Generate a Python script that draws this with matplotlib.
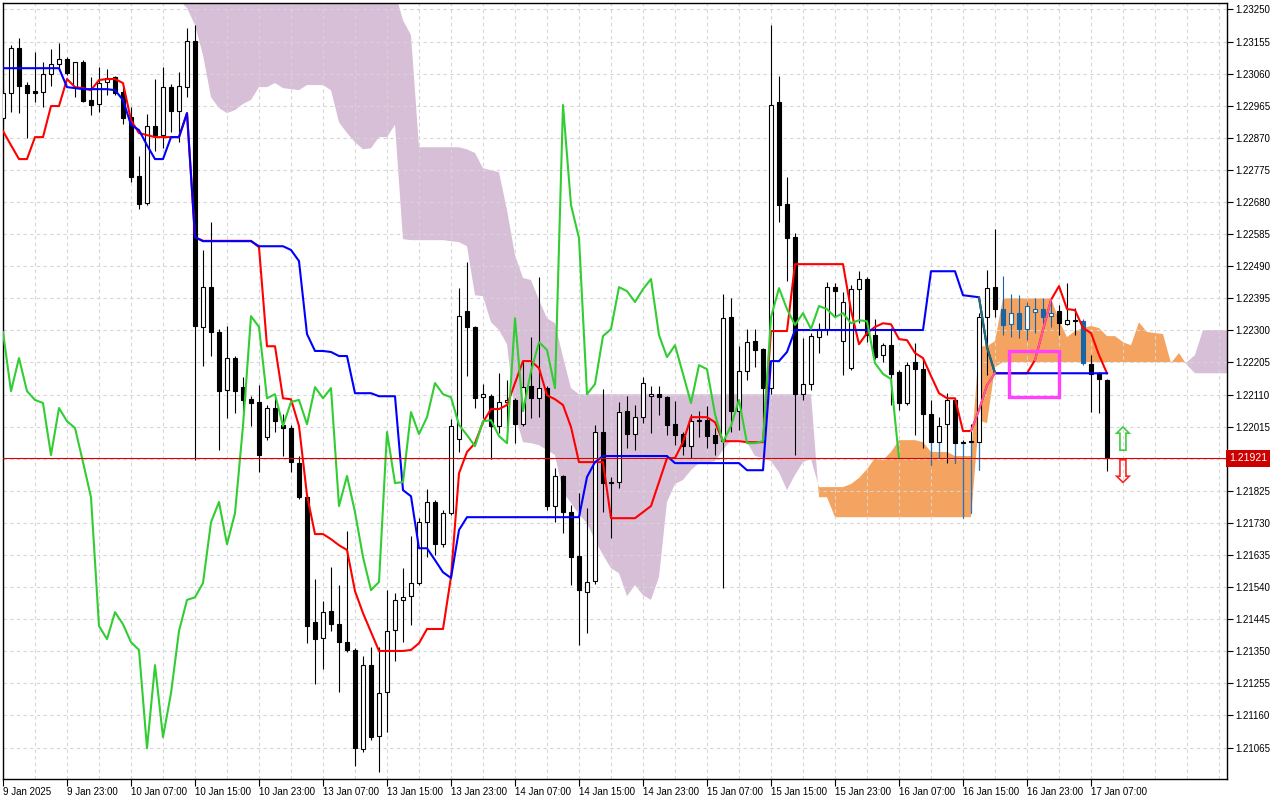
import numpy as np
import matplotlib.pyplot as plt
import matplotlib.patches as patches
import matplotlib.transforms as mtransforms
from matplotlib.ticker import MultipleLocator, FuncFormatter

plt.rcParams['font.family'] = ['Liberation Sans', 'DejaVu Sans']

# H1 bars, bar 0 = 9 Jan 2025 15:00, label every 8 bars
time_labels = ['9 Jan 2025', '9 Jan 23:00', '10 Jan 07:00', '10 Jan 15:00', '10 Jan 23:00',
               '13 Jan 07:00', '13 Jan 15:00', '13 Jan 23:00', '14 Jan 07:00', '14 Jan 15:00',
               '14 Jan 23:00', '15 Jan 07:00', '15 Jan 15:00', '15 Jan 23:00', '16 Jan 07:00',
               '16 Jan 15:00', '16 Jan 23:00', '17 Jan 07:00']
label_step = 8

opens = [1.22928, 1.23002, 1.23135, 1.23026, 1.23008, 1.23005, 1.23058, 1.23088, 1.23103, 1.23020,
         1.23094, 1.22981, 1.22970, 1.23035, 1.23050, 1.23005, 1.22931, 1.22756, 1.22677, 1.22905,
         1.22878, 1.23020, 1.22949, 1.23020, 1.23156, 1.22310, 1.22428, 1.22295, 1.22123, 1.22218,
         1.22132, 1.22097, 1.22088, 1.21984, 1.22070, 1.22020, 1.22011, 1.21907, 1.21806, 1.21436,
         1.21389, 1.21469, 1.21430, 1.21377, 1.21354, 1.21060, 1.21309, 1.21099, 1.21229, 1.21413,
         1.21502, 1.21513, 1.21552, 1.21732, 1.21792, 1.21667, 1.21759, 1.21978, 1.22357, 1.22310,
         1.22102, 1.22105, 1.22017, 1.22088, 1.22094, 1.22022, 1.22135, 1.22099, 1.22129, 1.21780,
         1.21869, 1.21762, 1.21632, 1.21525, 1.21558, 1.21999, 1.21848, 1.21851, 1.22061, 1.21993,
         1.22043, 1.22105, 1.22111, 1.22102, 1.22022, 1.21993, 1.21957, 1.22031, 1.22034, 1.21990,
         1.21972, 1.22339, 1.22061, 1.22179, 1.22268, 1.22244, 1.22129, 1.22976, 1.22674, 1.22576,
         1.22111, 1.22141, 1.22280, 1.22304, 1.22428, 1.22268, 1.22188, 1.22422, 1.22452, 1.22286,
         1.22227, 1.22256, 1.22176, 1.22085, 1.22206, 1.22185, 1.22052, 1.21969, 1.22022, 1.22094,
         1.21969, 1.21969, 1.21969, 1.22339, 1.22428, 1.22363, 1.22319, 1.22351, 1.22304, 1.22354,
         1.22363, 1.22342, 1.22357, 1.22319, 1.22330, 1.22327, 1.22200, 1.22173, 1.22153]
highs = [1.23026, 1.23144, 1.23165, 1.23035, 1.23124, 1.23094, 1.23132, 1.23150, 1.23109, 1.23094,
         1.23100, 1.23050, 1.23079, 1.23073, 1.23053, 1.23020, 1.22961, 1.22816, 1.22940, 1.23044,
         1.23079, 1.23029, 1.23064, 1.23195, 1.23204, 1.22538, 1.22620, 1.22304, 1.22313, 1.22224,
         1.22162, 1.22105, 1.22138, 1.22079, 1.22102, 1.22052, 1.22020, 1.21928, 1.21812, 1.21564,
         1.21499, 1.21599, 1.21546, 1.21706, 1.21359, 1.21336, 1.21362, 1.21362, 1.21531, 1.21522,
         1.21596, 1.21691, 1.21744, 1.21830, 1.21798, 1.21768, 1.22037, 1.22425, 1.22502, 1.22313,
         1.22141, 1.22111, 1.22173, 1.22153, 1.22099, 1.22212, 1.22280, 1.22458, 1.22135, 1.21892,
         1.21871, 1.21783, 1.21818, 1.21774, 1.22020, 1.22126, 1.21866, 1.22088, 1.22105, 1.22079,
         1.22162, 1.22135, 1.22135, 1.22105, 1.22091, 1.21999, 1.22052, 1.22061, 1.22076, 1.22011,
         1.22407, 1.22395, 1.22253, 1.22304, 1.22304, 1.22247, 1.23204, 1.23053, 1.22754, 1.22588,
         1.22277, 1.22292, 1.22321, 1.22443, 1.22440, 1.22413, 1.22434, 1.22475, 1.22458, 1.22333,
         1.22262, 1.22307, 1.22182, 1.22206, 1.22262, 1.22218, 1.22094, 1.22043, 1.22114, 1.22097,
         1.21975, 1.22022, 1.22351, 1.22478, 1.22600, 1.22461, 1.22407, 1.22404, 1.22384, 1.22395,
         1.22395, 1.22390, 1.22375, 1.22440, 1.22366, 1.22333, 1.22227, 1.22176, 1.22156]
lows = [1.22916, 1.22946, 1.22943, 1.22869, 1.22976, 1.22961, 1.23023, 1.23076, 1.23055, 1.22990,
        1.22976, 1.22937, 1.22946, 1.22996, 1.22996, 1.22910, 1.22739, 1.22659, 1.22671, 1.22831,
        1.22839, 1.22887, 1.22857, 1.22990, 1.21916, 1.22194, 1.22224, 1.21946, 1.22040, 1.22055,
        1.22058, 1.22017, 1.21880, 1.21975, 1.21999, 1.21928, 1.21880, 1.21801, 1.21374, 1.21253,
        1.21297, 1.21410, 1.21229, 1.21348, 1.21010, 1.21052, 1.21087, 1.20992, 1.21111, 1.21321,
        1.21377, 1.21428, 1.21546, 1.21629, 1.21635, 1.21658, 1.21753, 1.21940, 1.22165, 1.22070,
        1.22040, 1.21919, 1.21996, 1.22014, 1.21966, 1.22017, 1.22040, 1.22043, 1.21768, 1.21732,
        1.21700, 1.21546, 1.21368, 1.21404, 1.21549, 1.21762, 1.21685, 1.21833, 1.21951, 1.21946,
        1.22025, 1.21996, 1.22049, 1.21990, 1.21960, 1.21931, 1.21922, 1.21984, 1.21951, 1.21931,
        1.21537, 1.21999, 1.22005, 1.22153, 1.22191, 1.22017, 1.22111, 1.22620, 1.22446, 1.21931,
        1.22094, 1.22123, 1.22233, 1.22286, 1.22339, 1.22168, 1.22182, 1.22321, 1.22265, 1.22215,
        1.22206, 1.22079, 1.22064, 1.22079, 1.21990, 1.21951, 1.21901, 1.21922, 1.21907, 1.21907,
        1.21744, 1.21759, 1.21886, 1.22168, 1.22339, 1.22286, 1.22280, 1.22277, 1.22271, 1.22292,
        1.22321, 1.22310, 1.22286, 1.22316, 1.22286, 1.22197, 1.22058, 1.22055, 1.21883]
closes = [1.23002, 1.23135, 1.23023, 1.23002, 1.23002, 1.23058, 1.23088, 1.23103, 1.23061, 1.23094,
          1.22979, 1.22967, 1.23032, 1.23047, 1.23002, 1.22928, 1.22754, 1.22674, 1.22905, 1.22878,
          1.23020, 1.22949, 1.23023, 1.23156, 1.22313, 1.22428, 1.22295, 1.22120, 1.22218, 1.22120,
          1.22094, 1.22085, 1.21931, 1.22070, 1.22031, 1.22011, 1.21910, 1.21806, 1.21425, 1.21386,
          1.21466, 1.21430, 1.21377, 1.21354, 1.21063, 1.21309, 1.21096, 1.21226, 1.21410, 1.21502,
          1.21510, 1.21552, 1.21732, 1.21792, 1.21667, 1.21759, 1.22017, 1.22342, 1.22310, 1.22099,
          1.22111, 1.22017, 1.22088, 1.22094, 1.22022, 1.22132, 1.22099, 1.22129, 1.21780, 1.21869,
          1.21762, 1.21629, 1.21531, 1.21555, 1.21999, 1.21848, 1.21851, 1.22058, 1.21993, 1.22043,
          1.22144, 1.22111, 1.22102, 1.22020, 1.21990, 1.21957, 1.22031, 1.22034, 1.21987, 1.21966,
          1.22336, 1.22061, 1.22179, 1.22265, 1.22242, 1.22129, 1.22967, 1.22671, 1.22573, 1.22111,
          1.22141, 1.22283, 1.22304, 1.22428, 1.22416, 1.22384, 1.22422, 1.22452, 1.22286, 1.22221,
          1.22256, 1.22171, 1.22085, 1.22197, 1.22185, 1.22052, 1.21969, 1.22017, 1.22094, 1.21966,
          1.21966, 1.21972, 1.22339, 1.22425, 1.22363, 1.22316, 1.22351, 1.22304, 1.22372, 1.22363,
          1.22339, 1.22351, 1.22321, 1.22330, 1.22327, 1.22203, 1.22171, 1.22156, 1.21921]

# Tenkan-sen (red) and Kijun-sen (blue), read per bar
tenkan = [1.22890, 1.22848, 1.22807, 1.22807, 1.22872, 1.22872, 1.22964, 1.22964, 1.23044, 1.23020,
          1.23017, 1.23011, 1.23041, 1.23044, 1.23044, 1.23032, 1.22922, 1.22884, 1.22878, 1.22872,
          1.22872, 1.22872, 1.22872, 1.22943, 1.22576, 1.22565, 1.22565, 1.22565, 1.22565, 1.22565,
          1.22565, 1.22565, 1.22546, 1.22253, 1.22253, 1.22099, 1.22096, 1.22017, 1.21812, 1.21697,
          1.21697, 1.21682, 1.21664, 1.21650, 1.21528, 1.21463, 1.21407, 1.21351, 1.21351, 1.21351,
          1.21351, 1.21354, 1.21374, 1.21416, 1.21416, 1.21416, 1.21570, 1.21877, 1.21940, 1.21966,
          1.22028, 1.22067, 1.22067, 1.22079, 1.22144, 1.22209, 1.22209, 1.22188, 1.22108, 1.22096,
          1.22079, 1.22014, 1.21910, 1.21910, 1.21910, 1.21910, 1.21744, 1.21744, 1.21744, 1.21744,
          1.21762, 1.21780, 1.21851, 1.21922, 1.21922, 1.21969, 1.22043, 1.22043, 1.22043, 1.22028,
          1.21972, 1.21972, 1.21972, 1.21969, 1.21969, 1.21969, 1.22298, 1.22298, 1.22298, 1.22496,
          1.22496, 1.22496, 1.22496, 1.22496, 1.22496, 1.22496, 1.22360, 1.22259, 1.22292, 1.22310,
          1.22321, 1.22318, 1.22274, 1.22271, 1.22233, 1.22218, 1.22165, 1.22114, 1.22099, 1.22099,
          1.22002, 1.22002, 1.22064, 1.22138, 1.22173, 1.22173, 1.22173, 1.22173, 1.22173, 1.22212,
          1.22301, 1.22390, 1.22431, 1.22363, 1.22360, 1.22307, 1.22292, 1.22227, 1.22173]
kijun = ([1.23076] * 8 + [1.23020, 1.23017] + [1.23014] * 4 +
         [1.23011, 1.22982, 1.22908, 1.22893, 1.22848, 1.22807, 1.22807, 1.22872, 1.22872, 1.22943, 1.22576] +
         [1.22564] * 7 + [1.22549] * 4 +
         [1.22538, 1.22505, 1.22289, 1.22239, 1.22239, 1.22236, 1.22224, 1.22224] +
         [1.22114] * 3 + [1.22105] * 3 +
         [1.21827, 1.21809, 1.21655, 1.21655, 1.21620, 1.21584, 1.21567, 1.21709] +
         [1.21747] * 15 + [1.21866, 1.21910] + [1.21928] * 9 + [1.21907] * 9 + [1.21886] * 3 +
         [1.22209, 1.22209, 1.22236] + [1.22301] * 17 + [1.22475] * 4 +
         [1.22404, 1.22401, 1.22398, 1.22250] + [1.22173] * 15)

# Senkou span A / B (already shifted 26 bars ahead), first value at bar 22
span_start = 22
span_a = [1.23278, 1.23254, 1.23204, 1.23115, 1.22990, 1.22958, 1.22943, 1.22952, 1.22970, 1.22982,
          1.23020, 1.23020, 1.23032, 1.23017, 1.23014, 1.23011, 1.23026, 1.23026, 1.23026, 1.23011,
          1.22916, 1.22884, 1.22857, 1.22836, 1.22839, 1.22872, 1.22872, 1.22908, 1.22570, 1.22567,
          1.22567, 1.22567, 1.22567, 1.22567, 1.22564, 1.22561, 1.22549, 1.22404, 1.22401, 1.22324,
          1.22301, 1.22259, 1.22052, 1.21969, 1.21966, 1.21960, 1.21946, 1.21931, 1.21821, 1.21789,
          1.21756, 1.21729, 1.21679, 1.21635, 1.21596, 1.21581, 1.21513, 1.21546, 1.21516, 1.21502,
          1.21570, 1.21792, 1.21845, 1.21857, 1.21886, 1.21907, 1.21907, 1.21913, 1.21946, 1.21975,
          1.21975, 1.21969, 1.21928, 1.21922, 1.21913, 1.21880, 1.21827, 1.21872, 1.21910, 1.21919,
          1.21836, 1.21836, 1.21836, 1.21836, 1.21845, 1.21863, 1.21889, 1.21922, 1.21916, 1.21940,
          1.21975, 1.21975, 1.21975, 1.21969, 1.21940, 1.21940, 1.21940, 1.21928, 1.21928, 1.21928,
          1.22253, 1.22253, 1.22268, 1.22395, 1.22395, 1.22395, 1.22395, 1.22395, 1.22395, 1.22395,
          1.22330, 1.22280, 1.22298, 1.22307, 1.22313, 1.22307, 1.22283, 1.22283, 1.22265, 1.22256,
          1.22324, 1.22295, 1.22292, 1.22289, 1.22203, 1.22233, 1.22197] + [1.22173] * 16
span_b = ([1.23366] * 27 + [1.23301, 1.23218, 1.23174] + [1.22842] * 6 +
          [1.22836, 1.22825, 1.22780, 1.22774, 1.22768, 1.22656, 1.22523, 1.22455, 1.22449,
           1.22390, 1.22336, 1.22321, 1.22221, 1.22129] +
          [1.22111] * 30 + [1.21806] * 2 + [1.21747] * 18 + [1.22034, 1.22025, 1.22191] +
          [1.22206] * 24 + [1.22227] + [1.22301] * 15)
chikou_shift = 26

last_price = 1.21921

# second indicator drawn over the last bars
blue_candles = [125, 126, 127, 128, 129, 130, 131, 135]
blue_wicks = [116, 117, 119, 120, 121, 122]
pink_runs = [(121, 124), (129, 131)]
teal_run = (122, 124)
box_bars = (125.8, 132.0)
box_prices = (1.22102, 1.22238)
arrow_bar = 139.9
arrow_up_price = 1.21972
arrow_down_price = 1.21877

o = np.array(opens)
h = np.array(highs)
l = np.array(lows)
c = np.array(closes)
n = len(c)
x = np.arange(n)

fig = plt.figure(figsize=(12.8, 8), dpi=100)
ax = fig.add_axes([3 / 1280, 21 / 800, 1224 / 1280, 776 / 800])
ax.set_xlim(0, 153)
ax.set_ylim(1.20972, 1.23269)

# kumo
xs = np.arange(span_start, span_start + len(span_a))
a = np.array(span_a)
b = np.array(span_b)
ax.fill_between(xs, a, b, where=a >= b, interpolate=True, color='#f4a460', lw=0, zorder=1)
ax.fill_between(xs, a, b, where=a < b, interpolate=True, color='#d8bfd8', lw=0, zorder=1)

# candles
bull = c >= o
is_blue = np.isin(x, blue_candles)
wick_col = ['#1565a8' if bl else 'black' for bl in is_blue]
ax.vlines(x, l, h, colors=wick_col, lw=0.8, zorder=3)
bw = np.array(blue_wicks)
ax.vlines(bw, l[bw], np.minimum(o, c)[bw], colors='#1e78c8', lw=0.8, zorder=3.05)
face = []
edge = []
for i in range(n):
    col = '#1565a8' if is_blue[i] else 'black'
    edge.append(col)
    face.append('white' if bull[i] else col)
body = np.maximum(np.abs(c - o), 0.000015)
ax.bar(x, body, bottom=np.minimum(o, c), width=0.6, color=face, edgecolor=edge,
       linewidth=0.8, zorder=3.1)

# ichimoku lines
ax.plot(x, tenkan, color='#ff0000', lw=1.5, zorder=4)
ax.plot(x, kijun, color='#0000ff', lw=1.5, zorder=4.1)
ax.plot(x[:n - chikou_shift], c[chikou_shift:], color='#32cd32', lw=1.5, zorder=4.2)
ax.plot(x[teal_run[0]:teal_run[1] + 1], kijun[teal_run[0]:teal_run[1] + 1],
        color='#1f6f62', lw=1.5, zorder=4.3)
for s, e in pink_runs:
    ax.plot(x[s:e + 1], tenkan[s:e + 1], color='#ff5aa8', lw=1.3, zorder=4.4)

ax.add_patch(patches.Rectangle((box_bars[0], box_prices[0]), box_bars[1] - box_bars[0],
                               box_prices[1] - box_prices[0], fill=False,
                               edgecolor='#ff40ff', lw=2.4, zorder=5))
ax.text(arrow_bar, arrow_up_price, '\u21e7', color='#3ccc3c', fontsize=24,
        ha='center', va='center', family='DejaVu Sans', zorder=5)
ax.text(arrow_bar, arrow_down_price, '\u21e9', color='#ff2020', fontsize=24,
        ha='center', va='center', family='DejaVu Sans', zorder=5)

# current price
ax.axhline(last_price, color='#e00000', lw=0.8, zorder=5)
trans = mtransforms.blended_transform_factory(ax.transAxes, ax.transData)
ax.text(1.0 + 2 / 1224, last_price, '%.5f' % last_price, transform=trans, ha='left',
        va='center', color='white', fontsize=7.5,
        bbox=dict(boxstyle='square,pad=0.3', fc='#cc0000', ec='none'), zorder=6)


# the regular level hidden behind the current price box keeps its grid line only
def price_fmt(v, pos):
    if abs(v - last_price) < 0.00003:
        return ''
    return '%.5f' % v


# axes
ax.yaxis.tick_right()
ax.set_yticks(np.round(1.21065 + 0.00095 * np.arange(24), 5))
ax.yaxis.set_major_formatter(FuncFormatter(price_fmt))
ax.tick_params(axis='y', labelsize=7, length=4, width=0.8, pad=2)
ax.set_xticks(np.arange(len(time_labels)) * label_step)
ax.set_xticklabels(time_labels, ha='left')
ax.xaxis.set_minor_locator(MultipleLocator(4))
ax.tick_params(axis='x', which='major', labelsize=7, length=5, width=0.8, pad=1)
ax.tick_params(axis='x', which='minor', length=0)
ax.grid(True, which='both', axis='x', color='#d6d6d6', ls=(0, (3, 3)), lw=0.8)
ax.grid(True, which='major', axis='y', color='#d6d6d6', ls=(0, (3, 3)), lw=0.8)
for sp in ax.spines.values():
    sp.set_color('black')
    sp.set_linewidth(1)

fig.savefig('out.png', dpi=100, facecolor='white')
